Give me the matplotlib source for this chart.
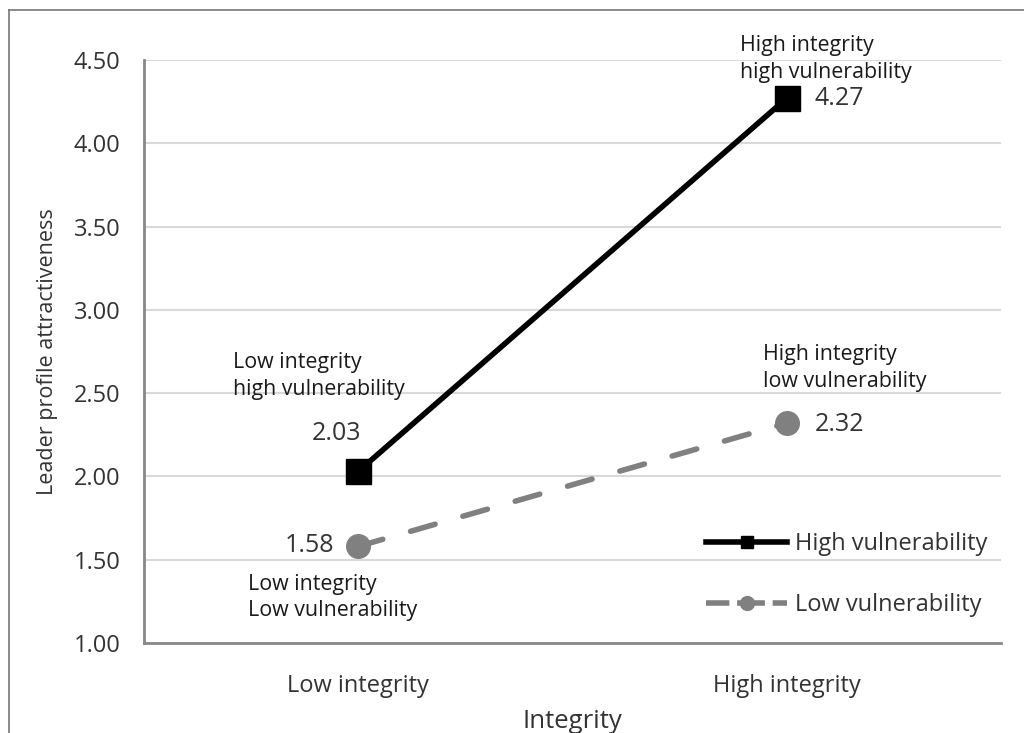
import matplotlib.pyplot as plt
from matplotlib.lines import Line2D

plt.rcParams['font.family'] = ['Open Sans', 'DejaVu Sans']

categorias = ['Low integrity', 'High integrity']
alta_vuln = [2.03, 4.27]
baixa_vuln = [1.58, 2.32]
yticks = [1.00, 1.50, 2.00, 2.50, 3.00, 3.50, 4.00, 4.50]

cor_texto = '#333333'
cinza = '#808080'

fig = plt.figure(figsize=(10.24, 7.33), dpi=100)
ax = fig.add_axes([0.1406, 0.1228, 0.8369, 0.7954])

x = list(range(len(categorias)))
ax.plot(x, alta_vuln, color='black', lw=4, marker='s', markersize=18,
        label='High vulnerability', zorder=4)
ax.plot(x, baixa_vuln, color=cinza, lw=4, ls=(0, (4.6, 5.2)), dash_capstyle='round',
        marker='o', markersize=17, label='Low vulnerability', zorder=3)

ax.set_xlim(-0.5, 1.5)
ax.set_ylim(1.0, 4.5)
ax.set_xticks(x)
ax.set_xticklabels(categorias, fontsize=17, color=cor_texto)
ax.set_yticks(yticks)
ax.set_yticklabels(['{:.2f}'.format(v) for v in yticks], fontsize=17, color=cor_texto)
ax.tick_params(axis='y', length=0, pad=17)
ax.tick_params(axis='x', length=0, pad=22)
ax.grid(axis='y', color='#d9d9d9', lw=1.5)
ax.set_axisbelow(True)
for s in ['top', 'right']:
    ax.spines[s].set_visible(False)
for s in ['left', 'bottom']:
    ax.spines[s].set_color('#888888')
    ax.spines[s].set_linewidth(2)

ax.set_xlabel('Integrity', fontsize=18.5, color=cor_texto)
ax.xaxis.set_label_coords(0.5, -0.113)
ax.set_ylabel('Leader profile attractiveness', fontsize=15.5, color=cor_texto)
ax.yaxis.set_label_coords(-0.100, 0.5)

# rotulos dos pontos
kw = dict(fontsize=15.4, color='#1a1a1a', linespacing=1.37, clip_on=False)
kn = dict(fontsize=18, color=cor_texto, clip_on=False)
ax.text(0.891, 4.505, 'High integrity\nhigh vulnerability', ha='left', va='center', **kw)
ax.text(1.066, 4.271, '4.27', ha='left', va='center', **kn)
ax.text(0.945, 2.651, 'High integrity\nlow vulnerability', ha='left', va='center', **kw)
ax.text(1.066, 2.309, '2.32', ha='left', va='center', **kn)
ax.text(-0.292, 2.603, 'Low integrity\nhigh vulnerability', ha='left', va='center', **kw)
ax.text(-0.050, 2.26, '2.03', ha='center', va='center', **kn)
ax.text(-0.113, 1.588, '1.58', ha='center', va='center', **kn)
ax.text(-0.257, 1.273, 'Low integrity\nLow vulnerability', ha='left', va='center', **kw)

handles = [
    Line2D([], [], color='black', lw=4, marker='s', markersize=9),
    Line2D([], [], color=cinza, lw=4, ls=(0.8, (5, 1.4)), marker='o', markersize=10),
]
leg = ax.legend(handles, ['High vulnerability', 'Low vulnerability'], loc='upper left',
                bbox_to_anchor=(0.656, 0.190), frameon=False, fontsize=17,
                borderpad=0, borderaxespad=0,
                handlelength=3.43, handletextpad=0.34, labelspacing=1.55)
for t in leg.get_texts():
    t.set_color(cor_texto)

# moldura cinza da figura
fig.add_artist(Line2D([9/1024, 9/1024], [0, 1 - 10/733], transform=fig.transFigure,
                      color='#777777', lw=1.2))
fig.add_artist(Line2D([9/1024, 1], [1 - 10/733, 1 - 10/733], transform=fig.transFigure,
                      color='#777777', lw=1.2))

fig.savefig('out.png', dpi=100)
